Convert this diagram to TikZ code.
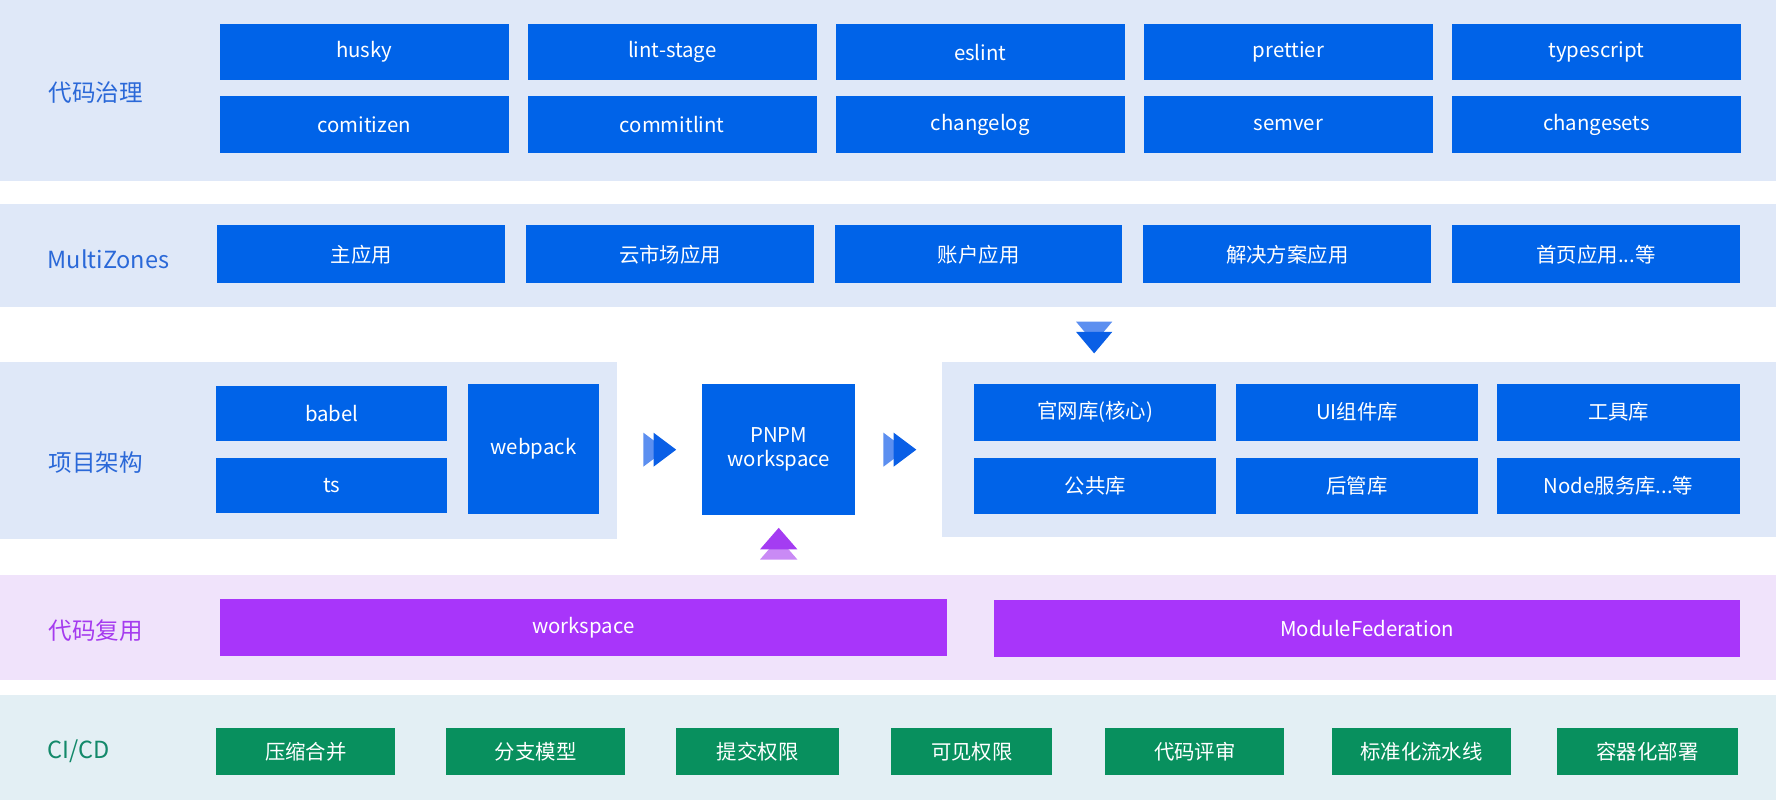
\documentclass[tikz,border=0pt]{standalone}
\usepackage{fontspec}
\setmainfont{Noto Sans CJK SC}
\usetikzlibrary{positioning}

\definecolor{bandblue}{HTML}{DFE8F8}
\definecolor{bandpurple}{HTML}{F0E3FB}
\definecolor{bandci}{HTML}{E3EFF4}
\definecolor{boxblue}{HTML}{0063E8}
\definecolor{boxpurple}{HTML}{A835FA}
\definecolor{boxgreen}{HTML}{08905E}
\definecolor{lblblue}{HTML}{2A68D8}
\definecolor{lblpurple}{HTML}{A53BEF}
\definecolor{lblgreen}{HTML}{13896A}
\definecolor{arrlight}{HTML}{5C8FF0}
\definecolor{arrdark}{HTML}{0A5FE6}
\definecolor{purlight}{HTML}{C98AF5}
\definecolor{purdark}{HTML}{A43CF2}

\begin{document}
\begin{tikzpicture}
[x=1pt,y=-1pt,
 every node/.style={inner sep=0pt,outer sep=0pt,text=white,font=\fontsize{18}{21}\selectfont},
 blk/.style={rectangle,fill=boxblue,minimum width=255pt,minimum height=50pt},
 zone/.style={blk,minimum width=254pt,minimum height=51pt},
 lib/.style={blk,minimum width=214pt},
 reuse/.style={rectangle,fill=boxpurple,minimum height=50pt},
 ci/.style={rectangle,fill=boxgreen,minimum height=41pt,minimum width=158pt},
 lbl/.style={anchor=west,font=\fontsize{20.8}{24}\selectfont}]
\useasboundingbox (0,0) rectangle (1568,706);

% bands
\fill[bandblue]   (0,0)   rectangle (1568,160);
\fill[bandblue]   (0,180) rectangle (1568,271);
\fill[bandblue]   (0,320) rectangle (545,476);
\fill[bandblue]   (832,320) rectangle (1568,474);
\fill[bandpurple] (0,508) rectangle (1568,600);
\fill[bandci]     (0,614) rectangle (1568,706);

% row labels
\node[lbl,text=lblblue]   (Lgov)   at (43,82)  {代码治理};
\node[lbl,text=lblblue]   (Lzones) at (42,229) {MultiZones};
\node[lbl,text=lblblue]   (Larch)  at (43,408) {项目架构};
\node[lbl,text=lblpurple] (Lreuse) at (43,557) {代码复用};
\node[lbl,text=lblgreen]  (Lci)    at (42,663) {CI/CD};

% code governance
\node[blk] (husky)      at (321.5,46)             {husky};
\node[blk] (lint)       [right=17pt of husky]     {lint-stage};
\node[blk] (eslint)     [right=17pt of lint]      {eslint};
\node[blk] (prettier)   [right=17pt of eslint]    {prettier};
\node[blk] (tsc)        [right=17pt of prettier]  {typescript};
\node[blk] (cz)         [below=14pt of husky]     {comitizen};
\node[blk] (commitlint) [right=17pt of cz]        {commitlint};
\node[blk] (changelog)  [right=17pt of commitlint] {changelog};
\node[blk] (semver)     [right=17pt of changelog] {semver};
\node[blk] (changesets) [right=17pt of semver]    {changesets};

% multizones
\node[zone] (mainapp)  at (319,224.5)            {主应用};
\node[zone] (market)   [right=18.5pt of mainapp] {云市场应用};
\node[zone] (account)  [right=18.5pt of market]  {账户应用};
\node[zone] (solution) [right=18.5pt of account] {解决方案应用};
\node[zone] (home)     [right=18.5pt of solution] {首页应用...等};

% project architecture
\node[blk,minimum width=204pt,minimum height=48pt] (babel) at (293,365) {babel};
\node[blk,minimum width=204pt,minimum height=49pt] (ts) [below=15pt of babel] {ts};
\node[blk,minimum width=116pt,minimum height=115pt] (webpack) at (471,396.5) {webpack};
\node[blk,minimum width=135pt,minimum height=116pt,align=center] (pnpm) at (687.5,397) {PNPM\\workspace};

\node[lib] (core)   at (967,364)           {官网库(核心)};
\node[lib] (uilib)  [right=17pt of core]   {UI组件库};
\node[lib] (tools)  [right=17pt of uilib]  {工具库};
\node[lib] (common) [below=15pt of core]   {公共库};
\node[lib] (admin)  [right=17pt of common] {后管库};
\node[lib] (nodesv) [right=17pt of admin]  {Node服务库...等};

% markers
\fill[arrlight] (568,382) -- (588,397) -- (568,412) -- cycle;
\fill[arrdark]  (577,382) -- (597,397) -- (577,412) -- cycle;
\fill[arrlight] (780,382) -- (800,397) -- (780,412) -- cycle;
\fill[arrdark]  (789,382) -- (809,397) -- (789,412) -- cycle;
\fill[arrlight] (950,284) -- (982,284) -- (966,303) -- cycle;
\fill[arrdark]  (950,293) -- (982,293) -- (966,312) -- cycle;
\fill[purlight] (671,494) -- (704,494) -- (687.5,475) -- cycle;
\fill[purdark]  (671,485) -- (704,485) -- (687.5,466) -- cycle;

% code reuse
\node[reuse,minimum width=642pt] (ws) at (515,554)   {workspace};
\node[reuse,minimum width=658pt] (mf) at (1207,555)  {ModuleFederation};

% ci/cd
\node[ci] (squash)   at (270,663.5)            {压缩合并};
\node[ci] (branch)   [right=45pt of squash]    {分支模型};
\node[ci,minimum width=144pt] (commitp) [right=45pt of branch]  {提交权限};
\node[ci,minimum width=142pt] (viewp)   [right=46pt of commitp] {可见权限};
\node[ci] (review)   [right=47pt of viewp]     {代码评审};
\node[ci] (pipeline) [right=42pt of review]    {标准化流水线};
\node[ci,minimum width=159pt] (deploy)  [right=41pt of pipeline] {容器化部署};
\end{tikzpicture}
\end{document}
